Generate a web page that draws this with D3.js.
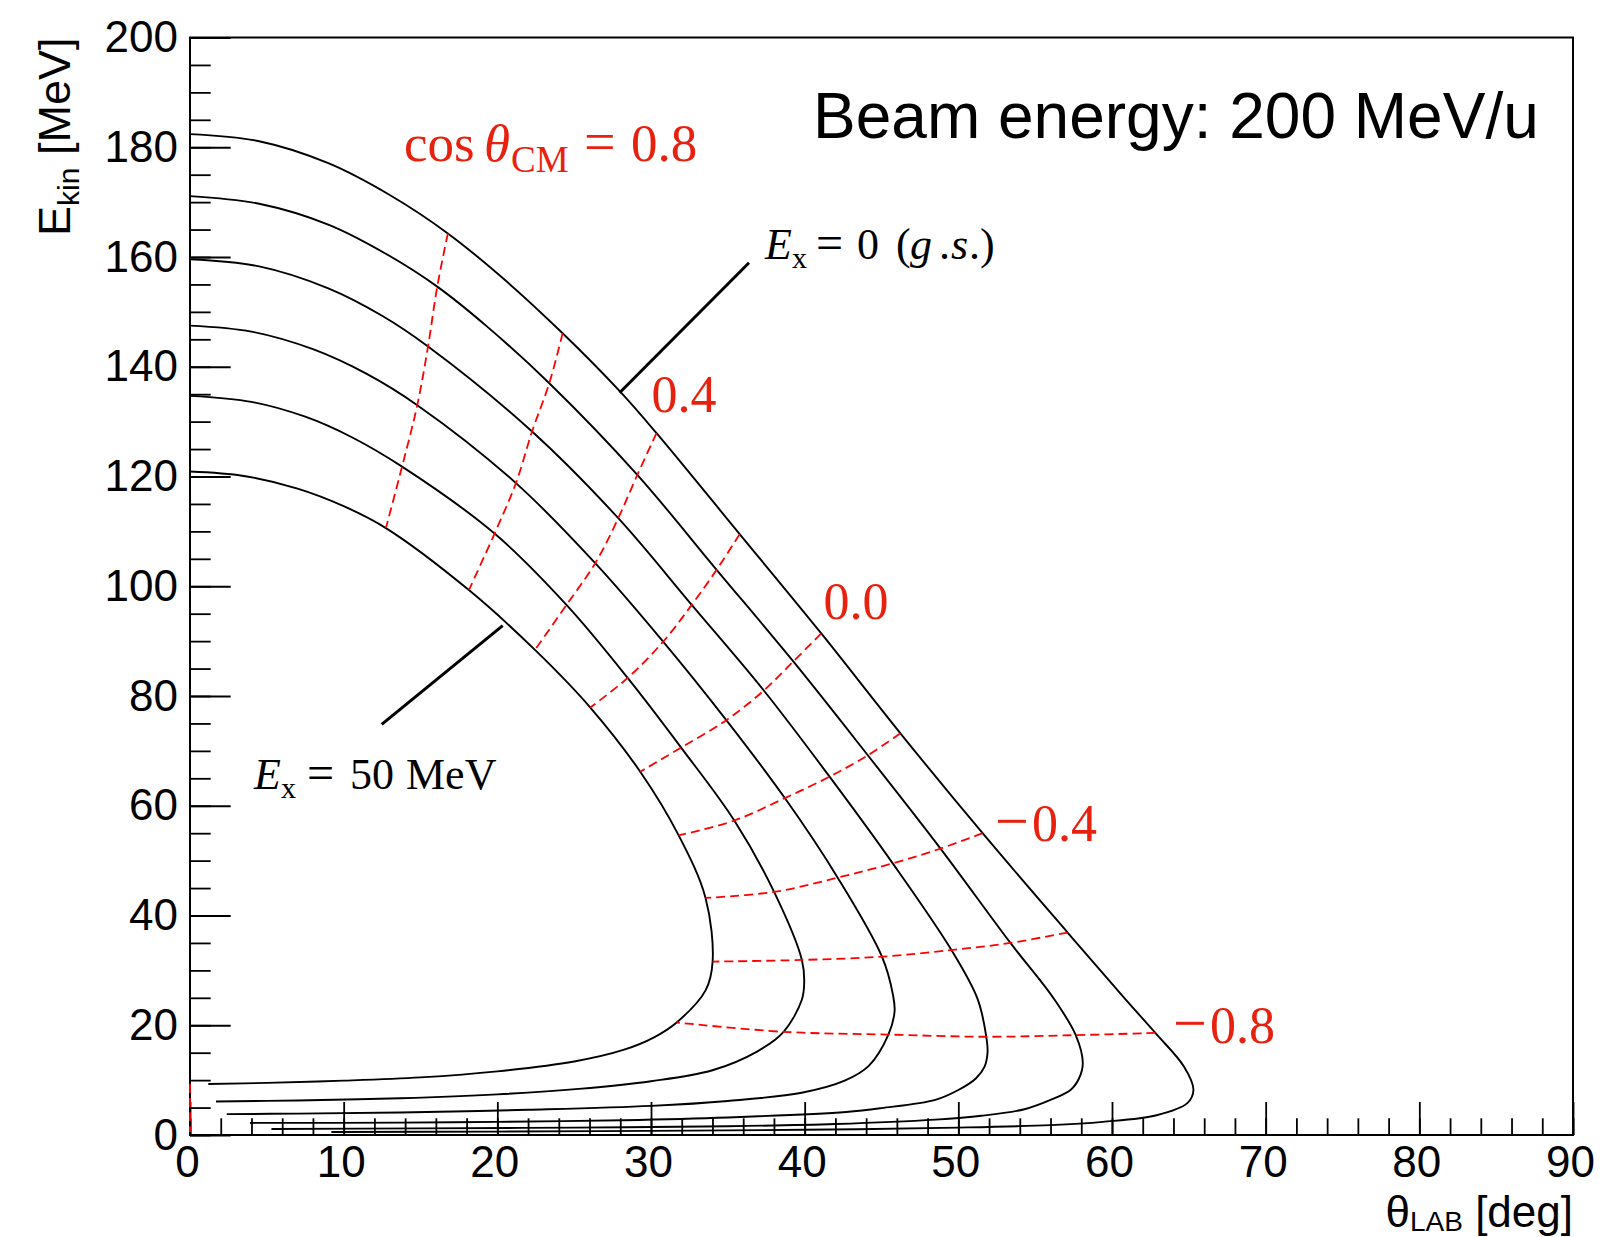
<!DOCTYPE html>
<html><head><meta charset="utf-8">
<script src="https://cdn.jsdelivr.net/npm/d3@7"></script>
<style>html,body{margin:0;padding:0;background:#fff;} svg{display:block;}</style>
</head><body>
<svg id="chart" width="1604" height="1237"></svg>
<script>
// ---------------- DATA ----------------
// Kinematic curves: [theta_LAB (deg), E_kin (MeV)] for each excitation energy
const excitationEnergies = [0, 10, 20, 30, 40, 50];

const curveEx0 = [[0,182.4],[4.5,181.1],[9,177.1],[13,171.3],[16.78,164.3],[20.5,155.8],[24.25,146.1],[27.98,135.5],[30.36,127.9],[35.77,109.5],[41.08,91.4],[46.23,73.2],[51.58,55.0],[57.11,36.9],[60.85,24.8],[62.82,18.6],[64.7,12.4],[65.3,8.2],[64.9,5.8],[62.9,3.6],[59.4,2.4],[56,1.8],[50,1.35],[40,0.95],[30,0.75],[20,0.62],[9.2,0.55]];
const curveEx10 = [[0,171.1],[4.5,169.7],[9,165.9],[12.8,160.5],[16.09,154.6],[19.3,147.4],[23.38,137.0],[29.11,120.3],[34.27,103.0],[39.26,86.3],[44.11,69.2],[48.84,52.2],[53.39,35.0],[56.2,24.9],[57.64,18.2],[58.1,13.1],[57.85,10.3],[57.3,8.2],[56,6.4],[54.3,4.7],[51.5,3.5],[48.5,2.8],[42,2.0],[35,1.6],[25,1.35],[15,1.2],[5.3,1.1]];
const curveEx20 = [[0,159.6],[4.5,158.3],[9,154.3],[12.5,149.3],[15.49,143.7],[22.26,128.2],[27.87,112.4],[32.65,96.6],[37.34,81.0],[41.62,65.3],[45.73,49.5],[49.55,33.7],[51.25,24.8],[51.82,17.9],[51.9,15.0],[51.7,12.4],[51.14,10.3],[50,8.2],[48.5,6.4],[45,4.9],[42.7,4.2],[35,3.2],[28.2,2.7],[20,2.4],[13.7,2.25],[3.9,2.2]];
const curveEx30 = [[0,147.5],[4,146.4],[8,143.2],[11.5,138.7],[14.79,133.0],[21.21,118.8],[26.37,104.2],[30.79,89.9],[34.9,75.6],[38.71,61.4],[42.15,46.9],[45.03,32.5],[45.75,25.5],[45.85,22.5],[45.45,18.3],[44.17,12.6],[42.6,9.9],[39.8,7.7],[35,6.2],[30,5.3],[22,4.6],[13.7,4.1],[7,3.9],[2.39,3.8]];
const curveEx40 = [[0,134.7],[4,133.6],[7.5,130.9],[10.5,127.2],[13.8,121.8],[19.82,109.6],[24.5,96.6],[28.48,83.3],[31.96,70.6],[35.42,57.3],[38.01,44.3],[39.82,31.9],[39.97,27.8],[39.81,24.6],[38.63,18.8],[36.9,15.2],[34.0,11.8],[30,9.8],[25.3,8.4],[20,7.4],[13.7,6.7],[7,6.3],[1.69,6.1]];
const curveEx50 = [[0,120.9],[3.5,120.1],[7,117.8],[10,114.6],[12.75,110.6],[18.15,99.3],[22.45,88.4],[26.05,77.9],[29.3,66.2],[31.8,54.6],[33.55,43.2],[34.01,31.6],[33.56,26.4],[31.67,20.5],[30.2,17.8],[28.2,15.5],[25,13.4],[20,11.6],[15,10.5],[10,9.9],[5,9.5],[1.19,9.3]];

// Iso-cos(theta_CM) lines: points where they cross the Ex = 0,10,...,50 curves
const cosValues = [0.8, 0.6, 0.4, 0.2, 0.0, -0.2, -0.4, -0.6, -0.8, -1.0];
const cosP08 = [[16.78,164.3],[16.09,154.6],[15.49,143.7],[14.79,133.0],[13.80,121.8],[12.75,110.6]];
const cosP06 = [[24.25,146.1],[23.38,137.0],[22.26,128.2],[21.21,118.8],[19.82,109.6],[18.15,99.3]];
const cosP04 = [[30.36,127.9],[29.11,120.3],[27.87,112.4],[26.37,104.2],[24.5,96.6],[22.45,88.4]];
const cosP02 = [[35.77,109.5],[34.27,103.0],[32.65,96.6],[30.79,89.9],[28.48,83.3],[26.05,77.9]];
const cosP00 = [[41.08,91.4],[39.26,86.3],[37.34,81.0],[34.9,75.6],[31.96,70.6],[29.3,66.2]];
const cosM02 = [[46.23,73.2],[44.11,69.2],[41.62,65.3],[38.71,61.4],[35.42,57.3],[31.8,54.6]];
const cosM04 = [[51.58,55.0],[48.84,52.2],[45.73,49.5],[42.15,46.9],[38.01,44.3],[33.55,43.2]];
const cosM06 = [[57.11,36.9],[53.39,35.0],[49.55,33.7],[45.03,32.5],[39.82,31.9],[34.01,31.6]];
const cosM08 = [[62.82,18.6],[57.64,18.2],[51.82,17.9],[45.45,18.3],[38.63,18.8],[31.67,20.5]];
const cosM10 = [[0,9.3],[0,6.1],[0,3.8],[0,2.2],[0,1.1],[0,0.55]];

// labelled cos values
const cosLabelTexts = ["0.4", "0.0", "0.4", "0.8"];
const cosLabelNegative = [false, false, true, true];

// axes
const xTickLabels = [0,10,20,30,40,50,60,70,80,90];
const yTickLabels = [0,20,40,60,80,100,120,140,160,180,200];
const xMinorTicks = d3.range(0, 90.01, 2);
const yMinorTicks = d3.range(0, 200.01, 5);

// ---------------- DRAWING ----------------
const svg = d3.select('#chart');
const plot = {left:190, right:1573, top:37.5, bottom:1135};
const x = d3.scaleLinear().domain([0,90]).range([plot.left, plot.right]);
const y = d3.scaleLinear().domain([0,200]).range([plot.bottom, plot.top]);
const SANS = "'Liberation Sans', Arial, Helvetica, sans-serif";
const SERIF = "'Liberation Serif', 'Times New Roman', serif";
const RED_TXT = "#e8210f";

svg.append('rect').attr('width',1604).attr('height',1237).attr('fill','#fff');

function styleAxis(g){
  g.select('.domain').remove();
  g.selectAll('.tick line').attr('stroke','#000').attr('stroke-width',1.8);
  g.selectAll('.tick text').attr('fill','#000').attr('font-family',SANS).attr('font-size',44);
}

// y axis minor + major
svg.append('g').attr('transform',`translate(${plot.left},0)`)
  .call(d3.axisLeft(y).tickValues(yMinorTicks).tickSize(-20.7).tickSizeOuter(0).tickFormat(''))
  .call(styleAxis);
svg.append('g').attr('transform',`translate(${plot.left},0)`)
  .call(d3.axisLeft(y).tickValues(yTickLabels).tickSize(-40.7).tickSizeOuter(0).tickPadding(12).tickFormat(d3.format('d')))
  .call(styleAxis);
// x axis minor + major
svg.append('g').attr('transform',`translate(0,${plot.bottom})`)
  .call(d3.axisBottom(x).tickValues(xMinorTicks).tickSize(-16.7).tickSizeOuter(0).tickFormat(''))
  .call(styleAxis);
svg.append('g').attr('transform',`translate(0,${plot.bottom})`)
  .call(d3.axisBottom(x).tickValues(xTickLabels).tickSize(-33).tickSizeOuter(0).tickPadding(11).tickFormat(d3.format('d')))
  .call(styleAxis)
  .call(g=>g.selectAll('.tick text').attr('dx',-3));

// frame
svg.append('rect').attr('x',plot.left).attr('y',plot.top)
  .attr('width',plot.right-plot.left).attr('height',plot.bottom-plot.top)
  .attr('fill','none').attr('stroke','#000').attr('stroke-width',2);

// curves
const line = d3.line().x(d=>x(d[0])).y(d=>y(d[1])).curve(d3.curveCatmullRom.alpha(0.5));
const curves = [curveEx0, curveEx10, curveEx20, curveEx30, curveEx40, curveEx50];
svg.append('g').selectAll('path').data(curves).join('path')
  .attr('d', line).attr('fill','none').attr('stroke','#000').attr('stroke-width',1.9)
  .attr('stroke-linejoin','round');

// dashed iso-cos lines
const cosLines = [cosP08, cosP06, cosP04, cosP02, cosP00, cosM02, cosM04, cosM06, cosM08, cosM10];
svg.append('g').selectAll('path').data(cosLines).join('path')
  .attr('d', line).attr('fill','none').attr('stroke','#ff0000').attr('stroke-width',1.8)
  .attr('stroke-dasharray','9,5');

// pointer lines for Ex labels
svg.append('line').attr('x1',619.6).attr('y1',392.7).attr('x2',749).attr('y2',262.7)
  .attr('stroke','#000').attr('stroke-width',3);
svg.append('line').attr('x1',502.7).attr('y1',625.7).attr('x2',381.7).attr('y2',724.3)
  .attr('stroke','#000').attr('stroke-width',3);

// Ex labels (pieces placed like the TLatex layout)
function piece(t, xx, str, opts={}){
  const s = t.append('tspan').attr('x', xx).text(str);
  if (opts.italic) s.attr('font-style','italic');
  if (opts.size) s.attr('font-size', opts.size);
  if (opts.dy !== undefined) s.attr('dy', opts.dy);
  return s;
}
const t0 = svg.append('text').attr('y',259).attr('font-family',SERIF).attr('font-size',44).attr('fill','#000');
piece(t0, 765, 'E', {italic:true});
piece(t0, 792, 'x', {size:30, dy:9});
piece(t0, 816, '=', {size:48, dy:-9});
piece(t0, 857, '0');
piece(t0, 896, '(');
piece(t0, 910, 'g', {italic:true});
piece(t0, 939, '.');
piece(t0, 951, 's', {italic:true});
piece(t0, 969, '.)');

const t50 = svg.append('text').attr('y',789).attr('font-family',SERIF).attr('font-size',44).attr('fill','#000');
piece(t50, 254, 'E', {italic:true});
piece(t50, 281, 'x', {size:30, dy:9});
piece(t50, 307, '=', {size:48, dy:-9});
piece(t50, 350, '50');
piece(t50, 406, 'MeV');

// red cos labels
const tc = svg.append('text').attr('y',161).attr('font-family',SERIF).attr('font-size',53).attr('fill',RED_TXT);
piece(tc, 404, 'cos');
piece(tc, 484, '\u03B8', {italic:true});
piece(tc, 511, 'CM', {size:37, dy:11});
piece(tc, 584, '=', {size:56, dy:-11});
piece(tc, 631, '0.8');

const cosLabelPos = [[651.6,412],[823.5,619],[995,841],[1173,1043]];
const cl = svg.append('g').selectAll('text').data(cosLabelTexts).join('text')
  .attr('y',(d,i)=>cosLabelPos[i][1])
  .attr('font-family',SERIF).attr('font-size',52).attr('fill',RED_TXT);
cl.each(function(d,i){
  const t = d3.select(this);
  if (cosLabelNegative[i]) {
    t.append('tspan').attr('x', cosLabelPos[i][0]).attr('font-size',60).text('\u2212');
    t.append('tspan').attr('x', cosLabelPos[i][0]+37).text(d);
  } else {
    t.append('tspan').attr('x', cosLabelPos[i][0]).text(d);
  }
});

// beam energy
svg.append('text').attr('x',813).attr('y',138).attr('font-family',SANS).attr('font-size',64)
  .attr('fill','#000').text('Beam energy: 200 MeV/u');

// axis titles
const yt = svg.append('text').attr('transform',`translate(70,${plot.top}) rotate(-90)`)
  .attr('text-anchor','end').attr('font-family',SANS).attr('font-size',45).attr('fill','#000');
yt.append('tspan').text('E');
yt.append('tspan').attr('font-size',30).attr('dy',9).text('kin');
yt.append('tspan').attr('dy',-9).text(' [MeV]');

const xt = svg.append('text').attr('x',plot.right).attr('y',1227)
  .attr('text-anchor','end').attr('font-family',SANS).attr('font-size',44).attr('fill','#000');
xt.append('tspan').text('\u03B8');
xt.append('tspan').attr('font-size',28).attr('dy',4).text('LAB');
xt.append('tspan').attr('dy',-4).text(' [deg]');
</script>
</body></html>
